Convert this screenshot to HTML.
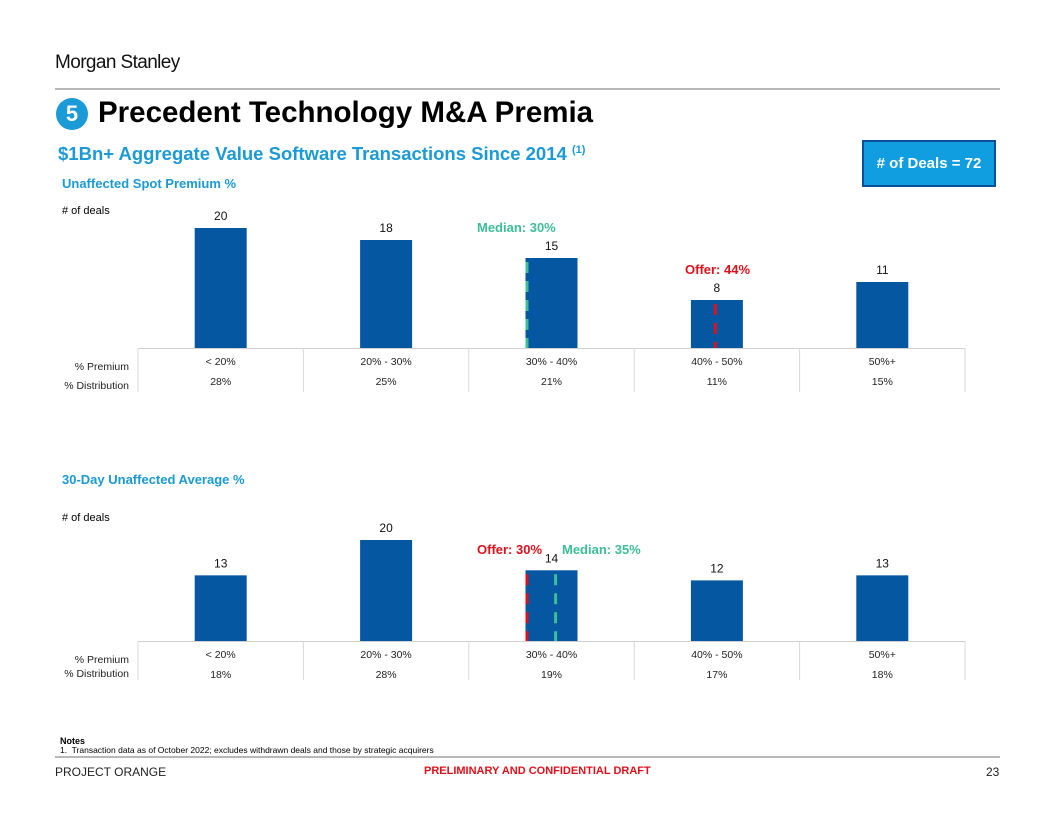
<!DOCTYPE html>
<html><head><meta charset="utf-8">
<style>
body{margin:0;background:#fff;}
#page{position:relative;width:1056px;height:816px;overflow:hidden;font-family:"Liberation Sans",Arial,sans-serif;}
.abs{position:absolute;white-space:nowrap;}
</style></head>
<body>
<div id="page">
<div class="abs" style="left:55px;top:52px;font-size:19px;color:#111;letter-spacing:-0.6px;">Morgan Stanley</div>
<div class="abs" style="left:55px;top:88px;width:945px;height:2px;background:#b8b8b8;"></div>
<div class="abs" style="left:56px;top:98px;width:32px;height:32px;border-radius:50%;background:#1a9ad6;color:#fff;font-weight:bold;font-size:22px;text-align:center;line-height:32px;">5</div>
<div class="abs" style="left:98px;top:96px;font-size:29.5px;font-weight:bold;color:#000;">Precedent Technology M&amp;A Premia</div>
<div class="abs" style="left:58px;top:143px;font-size:18.5px;font-weight:bold;color:#1a9ad6;">$1Bn+ Aggregate Value Software Transactions Since 2014 <sup style="font-size:11px;">(1)</sup></div>
<div class="abs" style="left:862px;top:140px;width:130px;height:43px;background:#109ee0;border:2px solid #0a4f9a;color:#fff;font-weight:bold;font-size:15px;text-align:center;line-height:43px;">#&nbsp;of Deals = 72</div>
<div class="abs" style="left:62px;top:176px;font-size:13px;font-weight:bold;color:#1a9ad6;">Unaffected Spot Premium %</div>
<div class="abs" style="left:62px;top:472px;font-size:13px;font-weight:bold;color:#1a9ad6;">30-Day Unaffected Average %</div>
<svg id="chart" class="abs" style="left:0;top:0;" width="1056" height="816"></svg>
<div class="abs" style="left:60px;top:736px;font-size:9px;font-weight:bold;">Notes</div>
<div class="abs" style="left:60px;top:745px;font-size:8.5px;">1.&nbsp; Transaction data as of October 2022; excludes withdrawn deals and those by strategic acquirers</div>
<div class="abs" style="left:55px;top:756px;width:945px;height:2px;background:#b8b8b8;"></div>
<div class="abs" style="left:55px;top:765px;font-size:12px;color:#222;">PROJECT ORANGE</div>
<div class="abs" style="left:424px;top:765px;font-size:11px;font-weight:bold;color:#e0101a;">PRELIMINARY AND CONFIDENTIAL DRAFT</div>
<div class="abs" style="left:986px;top:765px;font-size:12px;color:#222;">23</div>
</div>
<script>
const categories = ["< 20%","20% - 30%","30% - 40%","40% - 50%","50%+"];
const spotDeals = [20,18,15,8,11];
const spotDist = ["28%","25%","21%","11%","15%"];
const avgDeals = [13,20,14,12,13];
const avgDist = ["18%","28%","19%","17%","18%"];
const spotMedian = 30, spotOffer = 44;
const avgMedian = 35, avgOffer = 30;

const NS="http://www.w3.org/2000/svg";
const svg=document.getElementById('chart');
function mk(tag,attrs,parent){const e=document.createElementNS(NS,tag);for(const k in attrs)e.setAttribute(k,attrs[k]);(parent||svg).appendChild(e);return e;}
function txt(x,y,s,size,color,weight,anchor,parent){const t=mk('text',{x:x,y:y,'font-size':size,fill:color,'font-weight':weight||'normal','text-anchor':anchor||'middle','font-family':'Liberation Sans, Arial, sans-serif'},parent);t.textContent=s;return t;}

const tableLeft=138, tableRight=965, barW=52;
const colW=(tableRight-tableLeft)/categories.length;
function xCenter(i){return tableLeft+colW*(i+0.5);}
function xPct(p){let i=Math.floor((p-10)/10);i=Math.max(0,Math.min(4,i));const f=(p-10-10*i)/10;return xCenter(i)-barW/2+f*barW*1.1;}

function drawChart(prefix,vals,dist,base,scale,markers){
  const g=mk('g',{});
  
  
  const yl=txt(62,base-134+(prefix==='spot'?0:14),'# of deals',11,'#000','normal','start',g);
  
  
  vals.forEach((v,i)=>{
    const h=v*scale, cx=xCenter(i);
    const r=mk('rect',{x:cx-barW/2,y:base-h,width:barW,height:h,fill:'#0557a2'},g);
    
    
    const l=txt(cx,base-h-8,String(v),12,'#111','normal','middle',g);
    
    
    const c=txt(cx,base+17,categories[i],10.5,'#222','normal','middle',g);
    
    
    const d=txt(cx,base+37,dist[i],10.5,'#222','normal','middle',g);
    
    
  });
  mk('line',{x1:tableLeft,x2:tableRight,y1:base+0.5,y2:base+0.5,stroke:'#d0d0d0','stroke-width':1},g);
  for(let i=0;i<=categories.length;i++){const x=tableLeft+colW*i;mk('line',{x1:x,x2:x,y1:base,y2:base+(prefix==='spot'?44:39),stroke:'#d8d8d8','stroke-width':1},g);}
  const p1=txt(129,base+22,'% Premium',10.5,'#222','normal','end',g);
  
  
  const p2=txt(129,base+(prefix==='spot'?41:36),'% Distribution',10.5,'#222','normal','end',g);
  
  
  markers.forEach(m=>{
    const x=xPct(m.p);
    const i=Math.max(0,Math.min(4,Math.floor((m.p-10)/10)));
    const top=base-vals[i]*scale;
    const ln=mk('line',{x1:x+1.5,x2:x+1.5,y1:top+4,y2:base,stroke:m.color,'stroke-width':3,'stroke-dasharray':'11 8'},g);
    
    
    const t=txt(m.lx,m.ly,m.label+m.p+'%',13,m.color,'bold',m.anchor,g);
    
    
  });
}
drawChart('spot',spotDeals,spotDist,348,6,[
  {name:'median',p:spotMedian,color:'#3cbf97',label:'Median: ',lx:477,ly:232,anchor:'start'},
  {name:'offer',p:spotOffer,color:'#e0101a',label:'Offer: ',lx:685,ly:274,anchor:'start'}
]);
drawChart('avg',avgDeals,avgDist,641,5.05,[
  {name:'offer',p:avgOffer,color:'#e0101a',label:'Offer: ',lx:477,ly:554,anchor:'start'},
  {name:'median',p:avgMedian,color:'#3cbf97',label:'Median: ',lx:562,ly:554,anchor:'start'}
]);
</script>
</body></html>
